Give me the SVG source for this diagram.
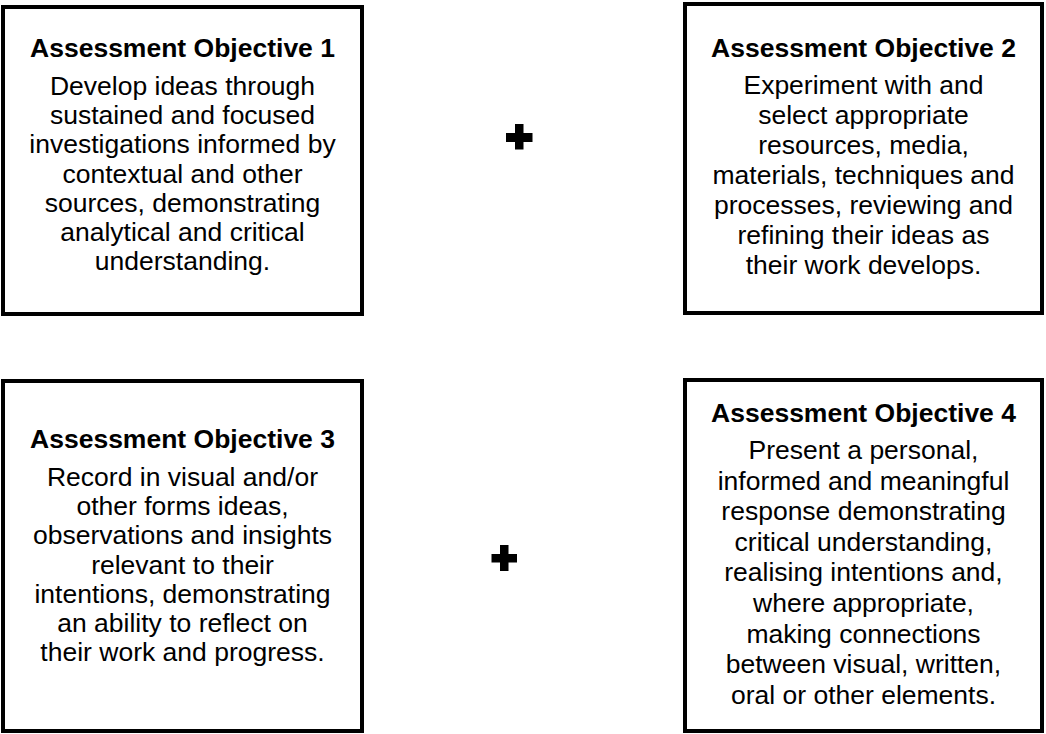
<svg xmlns="http://www.w3.org/2000/svg" width="1046" height="734" viewBox="0 0 1046 734">
<style>
.box{fill:#fff;stroke:#000;stroke-width:4}
.t{font-family:"Liberation Sans",Arial,sans-serif;font-size:26.5px;fill:#000;text-anchor:middle}
.b{font-weight:bold}
.plus{fill:#000}
</style>
<rect width="1046" height="734" fill="#fff"/>
<g id="ao1">
<rect class="box" x="3" y="7" width="359" height="307"/>
<text class="t b" x="182.5" y="57">Assessment Objective 1</text>
<text class="t" x="182.5" y="95">Develop ideas through</text>
<text class="t" x="182.5" y="124.2">sustained and focused</text>
<text class="t" x="182.5" y="153.4">investigations informed by</text>
<text class="t" x="182.5" y="182.6">contextual and other</text>
<text class="t" x="182.5" y="211.8">sources, demonstrating</text>
<text class="t" x="182.5" y="241">analytical and critical</text>
<text class="t" x="182.5" y="270.2">understanding.</text>
</g>
<g id="ao2">
<rect class="box" x="685" y="4" width="357" height="309"/>
<text class="t b" x="863.5" y="56.5">Assessment Objective 2</text>
<text class="t" x="863.5" y="93.5">Experiment with and</text>
<text class="t" x="863.5" y="123.5">select appropriate</text>
<text class="t" x="863.5" y="153.5">resources, media,</text>
<text class="t" x="863.5" y="183.5">materials, techniques and</text>
<text class="t" x="863.5" y="213.5">processes, reviewing and</text>
<text class="t" x="863.5" y="243.5">refining their ideas as</text>
<text class="t" x="863.5" y="273.5">their work develops.</text>
</g>
<g id="ao3">
<rect class="box" x="3" y="381" width="359" height="350"/>
<text class="t b" x="182.5" y="448">Assessment Objective 3</text>
<text class="t" x="182.5" y="486">Record in visual and/or</text>
<text class="t" x="182.5" y="515.2">other forms ideas,</text>
<text class="t" x="182.5" y="544.4">observations and insights</text>
<text class="t" x="182.5" y="573.6">relevant to their</text>
<text class="t" x="182.5" y="602.8">intentions, demonstrating</text>
<text class="t" x="182.5" y="632">an ability to reflect on</text>
<text class="t" x="182.5" y="661.2">their work and progress.</text>
</g>
<g id="ao4">
<rect class="box" x="685" y="380" width="357" height="351"/>
<text class="t b" x="863.5" y="421.5">Assessment Objective 4</text>
<text class="t" x="863.5" y="459">Present a personal,</text>
<text class="t" x="863.5" y="489.6">informed and meaningful</text>
<text class="t" x="863.5" y="520.2">response demonstrating</text>
<text class="t" x="863.5" y="550.8">critical understanding,</text>
<text class="t" x="863.5" y="581.4">realising intentions and,</text>
<text class="t" x="863.5" y="612">where appropriate,</text>
<text class="t" x="863.5" y="642.6">making connections</text>
<text class="t" x="863.5" y="673.2">between visual, written,</text>
<text class="t" x="863.5" y="703.8">oral or other elements.</text>
</g>
<g id="connectors">
<path class="plus" d="M515 124h8.5v9h9v9h-9v7.5h-8.5v-7.5h-9v-9h9z"/>
<path class="plus" d="M500 545h8.5v9h8.5v8.5h-8.5v8.5h-8.5v-8.5h-8.5v-8.5h8.5z"/>
</g>
</svg>
